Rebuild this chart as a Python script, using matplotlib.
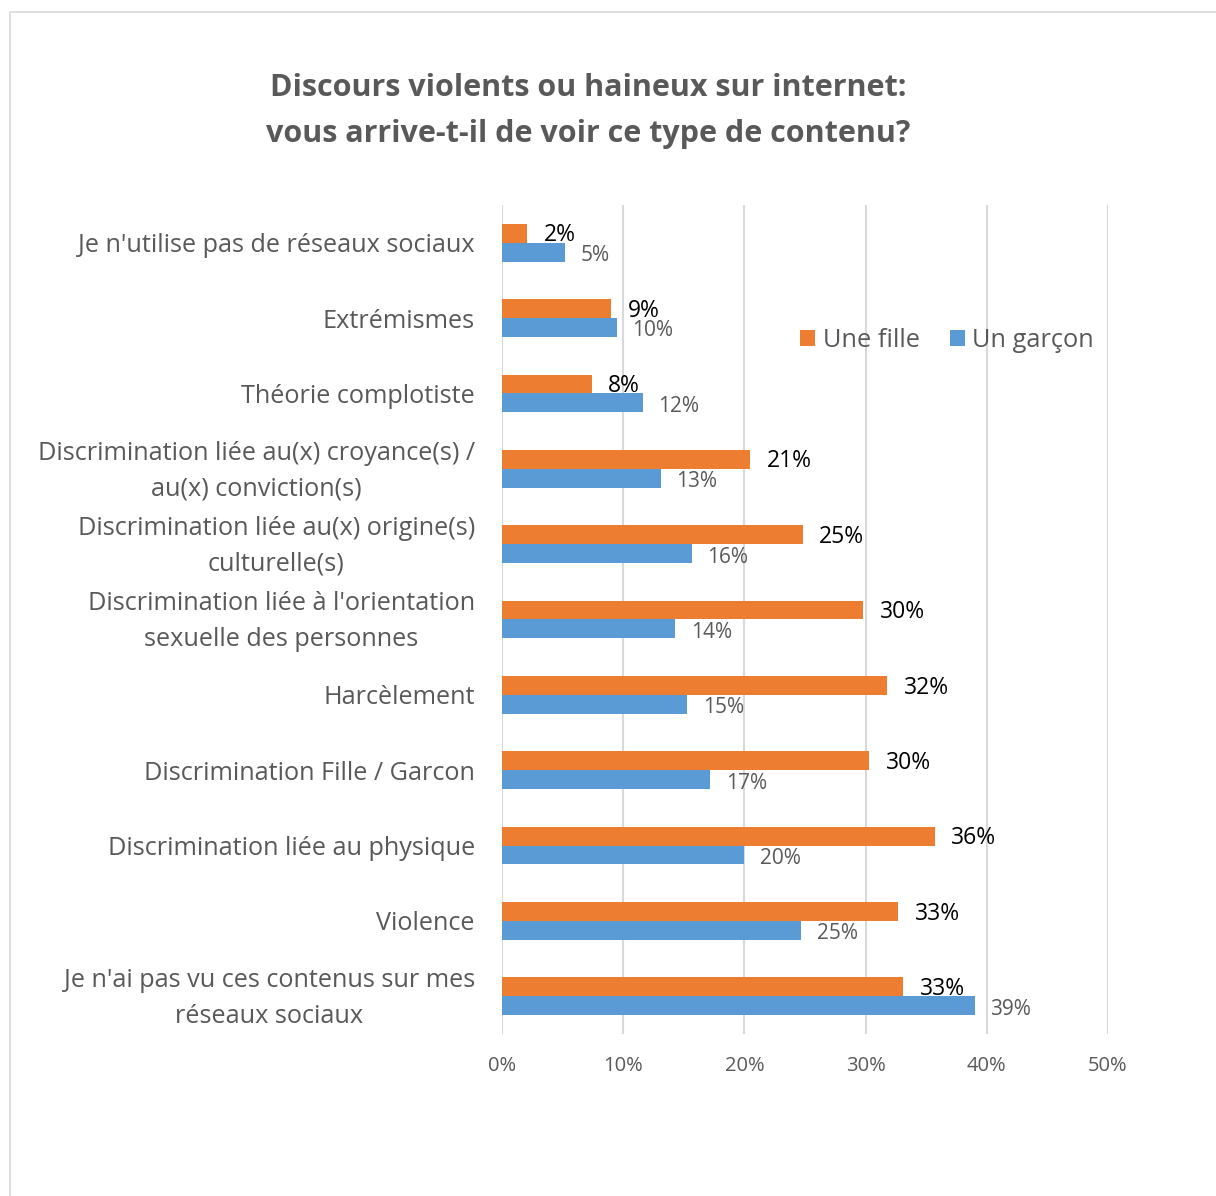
import matplotlib
matplotlib.use('Agg')
import matplotlib.pyplot as plt
import matplotlib.transforms as mtransforms
from matplotlib.patches import Rectangle
from matplotlib.ticker import FuncFormatter
import numpy as np

plt.rcParams['font.family'] = ['Open Sans', 'DejaVu Sans']

# Data (percentages)
categories = [
    "Je n'utilise pas de réseaux sociaux",
    "Extrémismes",
    "Théorie complotiste",
    "Discrimination liée au(x) croyance(s) /\nau(x) conviction(s)",
    "Discrimination liée au(x) origine(s)\nculturelle(s)",
    "Discrimination liée à l'orientation\nsexuelle des personnes",
    "Harcèlement",
    "Discrimination Fille / Garcon",
    "Discrimination liée au physique",
    "Violence",
    "Je n'ai pas vu ces contenus sur mes\nréseaux sociaux",
]
fille = [2.1, 9.0, 7.4, 20.5, 24.8, 29.8, 31.8, 30.3, 35.7, 32.7, 33.1]
garcon = [5.2, 9.5, 11.6, 13.1, 15.7, 14.3, 15.3, 17.2, 20.0, 24.7, 39.0]
fille_labels = ['2%', '9%', '8%', '21%', '25%', '30%', '32%', '30%', '36%', '33%', '33%']
garcon_labels = ['5%', '10%', '12%', '13%', '16%', '14%', '15%', '17%', '20%', '25%', '39%']

orange = '#ED7D31'
blue = '#5B9BD5'
grey = '#595959'

W, H = 1216, 1196
fig = plt.figure(figsize=(W / 100, H / 100), dpi=100)

# outer chart border
fig.patches.append(Rectangle((10 / W, -0.01), 1.0, (H - 12) / H + 0.01, transform=fig.transFigure,
                             fill=False, edgecolor='#D9D9D9', linewidth=1.2))

ax = fig.add_axes([502 / W, (H - 1034) / H, (1108 - 502) / W, (1034 - 205) / H])

y = np.arange(len(categories))
h = 0.25
ax.barh(y - h / 2, fille, height=h, color=orange, label='Une fille', zorder=3)
ax.barh(y + h / 2, garcon, height=h, color=blue, label='Un garçon', zorder=3)

for i in range(len(categories)):
    ax.annotate(fille_labels[i], (fille[i], y[i] - h / 2), xytext=(12, -1.5), textcoords='offset points',
                va='center', ha='left', fontsize=16.5, color='black')
    ax.annotate(garcon_labels[i], (garcon[i], y[i] + h / 2), xytext=(11, -2.5), textcoords='offset points',
                va='center', ha='left', fontsize=15, color=grey)

ax.set_xlim(0, 50)
ax.set_ylim(len(categories) - 0.5, -0.5)
ax.set_xticks(np.arange(0, 51, 10))
ax.xaxis.set_major_formatter(FuncFormatter(lambda v, p: '%d%%' % v))
ax.set_yticks(y)
ax.set_yticklabels(categories, fontsize=18.2, color=grey, linespacing=1.55)
ax.tick_params(axis='x', colors=grey, labelsize=14.5, length=0, pad=16)
ax.tick_params(axis='y', length=0, pad=19.5)
# two-line labels sit a little high in the original
shift = mtransforms.ScaledTranslation(0, 6 / 100, fig.dpi_scale_trans)
for lab in ax.get_yticklabels():
    lab.set_multialignment('center')
    if '\n' in lab.get_text():
        lab.set_transform(lab.get_transform() + shift)
ax.grid(axis='x', color='#D9D9D9', linewidth=1.5, zorder=0)
for s in ax.spines.values():
    s.set_visible(False)

leg = ax.legend(loc='upper left', bbox_to_anchor=((790 - 502) / (1108 - 502), 1 - (318 - 205) / (1034 - 205)),
                ncol=2, frameon=False, fontsize=18.3, handlelength=0.6, handleheight=0.6,
                handletextpad=0.3, columnspacing=1.16, borderaxespad=0)
for t in leg.get_texts():
    t.set_color(grey)

fig.text(588 / W, 1 - 88 / H, 'Discours violents ou haineux sur internet:', ha='center', va='center',
         fontsize=22, fontweight='bold', color=grey)
fig.text(588 / W, 1 - 134 / H, 'vous arrive-t-il de voir ce type de contenu?', ha='center', va='center',
         fontsize=22, fontweight='bold', color=grey)

fig.savefig('out.png', dpi=100)
